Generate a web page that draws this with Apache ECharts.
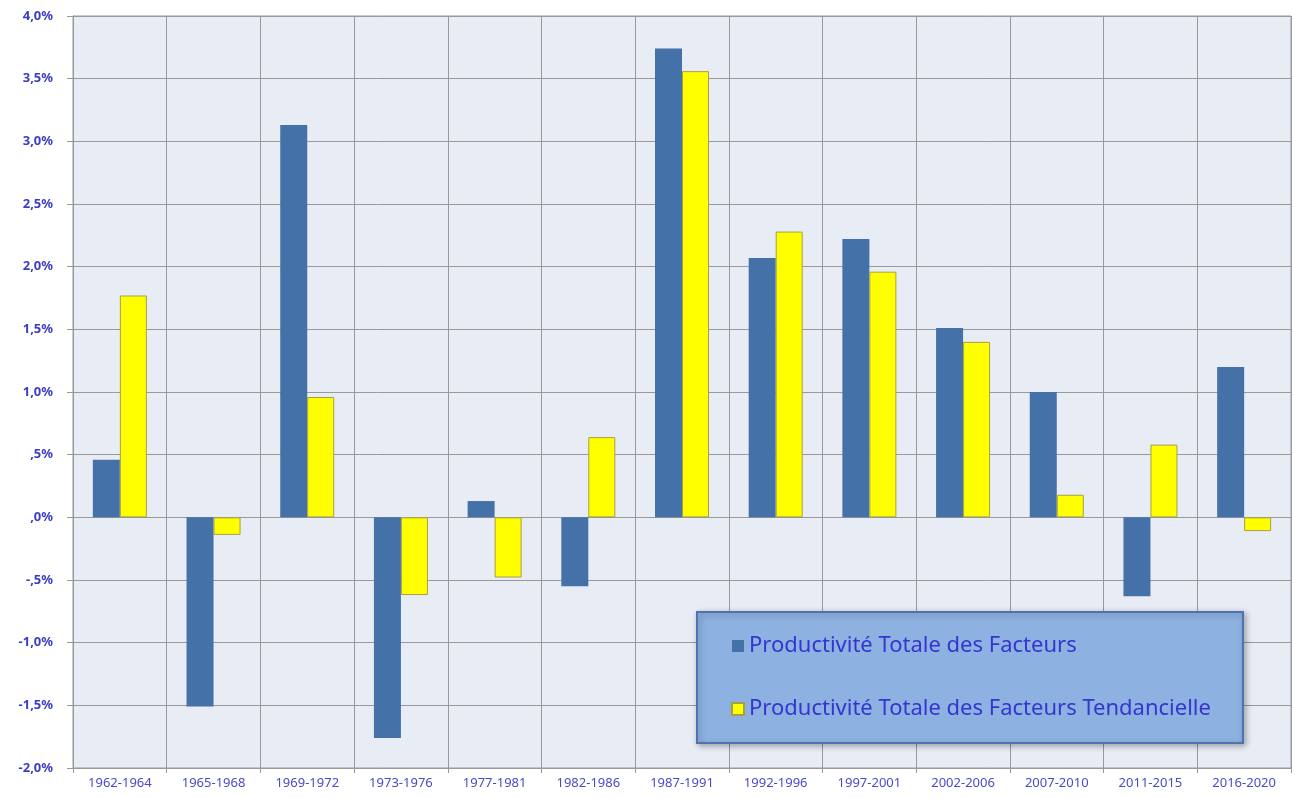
<!DOCTYPE html>
<html>
<head>
<meta charset="utf-8">
<script src="https://cdn.jsdelivr.net/npm/echarts@6/dist/echarts.min.js"></script>
<style>
  html, body { margin: 0; padding: 0; background: #fff; }
  #main { width: 1295px; height: 798px; }
</style>
</head>
<body>
<div id="main"></div>
<script>
  // périodes et taux de croissance (%)
  var periods = ['1962-1964', '1965-1968', '1969-1972', '1973-1976', '1977-1981', '1982-1986',
    '1987-1991', '1992-1996', '1997-2001', '2002-2006', '2007-2010', '2011-2015', '2016-2020'];
  var ptf = [0.46, -1.51, 3.13, -1.76, 0.13, -0.55, 3.74, 2.07, 2.22, 1.51, 1.00, -0.63, 1.20];
  var ptfTend = [1.77, -0.14, 0.96, -0.62, -0.48, 0.64, 3.56, 2.28, 1.96, 1.40, 0.18, 0.58, -0.11];

  function fmtPct(v) {
    var s = Math.abs(v).toFixed(1).replace('.', ',');
    if (s.charAt(0) === '0') s = s.substring(1);
    return (v < 0 ? '-' : '') + s + '%';
  }

  var chart = echarts.init(document.getElementById('main'));
  chart.setOption({
    animation: false,
    textStyle: { fontFamily: 'Noto Sans' },
    grid: {
      left: 73, right: 4, top: 16, bottom: 30,
      show: true,
      backgroundColor: '#e8ecf4',
      borderColor: '#999999',
      borderWidth: 1
    },
    legend: {
      orient: 'vertical',
      left: 697,
      top: 612,
      padding: [23, 32, 23, 34],
      itemGap: 41,
      itemWidth: 12,
      itemHeight: 12,
      icon: 'rect',
      backgroundColor: '#8db1e1',
      borderColor: '#4d74b0',
      borderWidth: 2,
      shadowColor: 'rgba(0,0,0,0.3)',
      shadowBlur: 6,
      shadowOffsetX: 2,
      shadowOffsetY: 2,
      textStyle: { color: '#3535d0', fontSize: 22 },
      data: ['Productivité Totale des Facteurs', 'Productivité Totale des Facteurs Tendancielle']
    },
    xAxis: {
      type: 'category',
      data: periods,
      axisLine: { onZero: false, lineStyle: { color: '#999999' } },
      axisTick: { show: true, length: 5, lineStyle: { color: '#999999' } },
      splitLine: { show: true, interval: 0, lineStyle: { color: '#999999', width: 1 } },
      axisLabel: { color: '#4a4ac8', fontSize: 13, interval: 0, margin: 9 }
    },
    yAxis: {
      type: 'value',
      min: -2, max: 4, interval: 0.5,
      axisLine: { show: true, lineStyle: { color: '#999999' } },
      axisTick: { show: true, length: 6, lineStyle: { color: '#999999' } },
      splitLine: { show: true, lineStyle: { color: '#999999', width: 1 } },
      axisLabel: { color: '#3d3dc4', fontSize: 13, fontWeight: 'bold', margin: 20, formatter: fmtPct }
    },
    series: [
      {
        name: 'Productivité Totale des Facteurs',
        type: 'bar',
        data: ptf,
        barWidth: 27,
        barGap: '0%',
        itemStyle: { color: '#4471a8' }
      },
      {
        name: 'Productivité Totale des Facteurs Tendancielle',
        type: 'bar',
        data: ptfTend,
        barWidth: 27,
        itemStyle: { color: '#ffff00', borderColor: '#a8a040', borderWidth: 1 }
      }
    ]
  });
</script>
</body>
</html>
